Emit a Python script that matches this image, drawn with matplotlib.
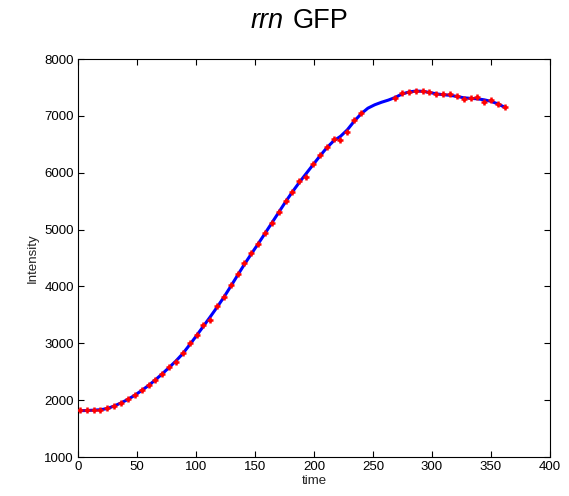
import numpy as np
import matplotlib.pyplot as plt

# measured points (red markers); no measurements between ~240 and ~268
time = [1.7, 7.5, 13.3, 19.1, 24.9, 30.8, 36.6, 42.4, 48.2, 54.0, 59.8, 65.6, 71.4, 77.2,
        83.0, 88.9, 94.7, 100.5, 106.3, 112.1, 117.9, 123.7, 129.5, 135.3, 141.1, 147.0,
        152.8, 158.6, 164.4, 170.2, 176.0, 181.8, 187.6, 193.4, 199.2, 205.1, 210.9, 216.7,
        222.5, 228.3, 234.1, 239.9, 268.9, 274.7, 280.5, 286.3, 292.1, 297.9, 303.7, 309.5,
        315.4, 321.2, 327.0, 332.8, 338.6, 344.4, 350.2, 356.0, 361.8]
intensity = [1820, 1825, 1830, 1830, 1855, 1905, 1955, 2015, 2090, 2175, 2260, 2360, 2465, 2580,
             2670, 2830, 3000, 3146, 3316, 3410, 3656, 3820, 4020, 4219, 4407, 4583,
             4740, 4934, 5121, 5305, 5495, 5661, 5849, 5920, 6153, 6312, 6458, 6588,
             6575, 6721, 6920, 7045, 7320, 7407, 7420, 7443, 7440, 7414, 7379, 7379,
             7379, 7355, 7297, 7320, 7337, 7250, 7279, 7203, 7150]

# smoothed curve (blue line)
fit_time = [1.7, 7.5, 13.3, 19.1, 24.9, 30.8, 36.6, 42.4, 48.2, 54.0, 59.8, 65.6, 71.4, 77.2,
            83.0, 88.9, 94.7, 100.5, 106.3, 112.1, 117.9, 123.7, 129.5, 135.3, 141.1, 147.0,
            152.8, 158.6, 164.4, 170.2, 176.0, 181.8, 187.6, 193.4, 199.2, 205.1, 210.9, 216.7,
            222.5, 228.3, 234.1, 239.9, 245.7, 251.5, 257.3, 263.1, 268.9, 274.7, 280.5, 286.3,
            292.1, 297.9, 303.7, 309.5, 315.4, 321.2, 327.0, 332.8, 338.6, 344.4, 350.2, 356.0,
            361.8]
fit_val = [1815, 1818, 1824, 1832, 1852, 1898, 1952, 2014, 2087, 2170, 2258, 2357, 2462, 2574,
           2688, 2820, 2975, 3135, 3300, 3465, 3635, 3812, 4002, 4197, 4390, 4575,
           4752, 4935, 5120, 5305, 5490, 5665, 5830, 5985, 6140, 6295, 6440, 6560,
           6640, 6755, 6905, 7035, 7135, 7195, 7240, 7278, 7325, 7385, 7420, 7437,
           7432, 7412, 7388, 7372, 7362, 7342, 7318, 7308, 7300, 7282, 7255, 7210,
           7150]

plt.rcParams['font.family'] = ['Liberation Sans', 'DejaVu Sans']

fig = plt.figure(figsize=(5.69, 4.96), dpi=100)
ax = fig.add_axes([0.137, 0.0786, 0.8295, 0.8024])

ax.plot(fit_time, fit_val, color='#0000ff', lw=2.2, zorder=2)
ax.plot(time, intensity, linestyle='none', marker='+', color='#ff0000',
        markersize=4.5, markeredgewidth=1.8, zorder=3)

ax.set_xlim(0, 400)
ax.set_ylim(1000, 8000)
ax.set_xticks(np.arange(0, 401, 50))
ax.set_yticks(np.arange(1000, 8001, 1000))
ax.tick_params(direction='in', length=4, width=0.8, top=True, right=True,
               labelsize=9.5, pad=3)
for s in ax.spines.values():
    s.set_linewidth(0.8)

ax.set_xlabel('time', fontsize=9.5, labelpad=1, color='#222222')
ax.set_ylabel('Intensity', fontsize=9.5, labelpad=4, color='#222222')

fig.text(284 / 569, 1 - 28.5 / 496, 'rrn', fontsize=19.5, style='italic',
         ha='right', va='baseline')
fig.text(293 / 569, 1 - 28.5 / 496, 'GFP', fontsize=19.5, ha='left', va='baseline')

fig.savefig('out.png', dpi=100)
